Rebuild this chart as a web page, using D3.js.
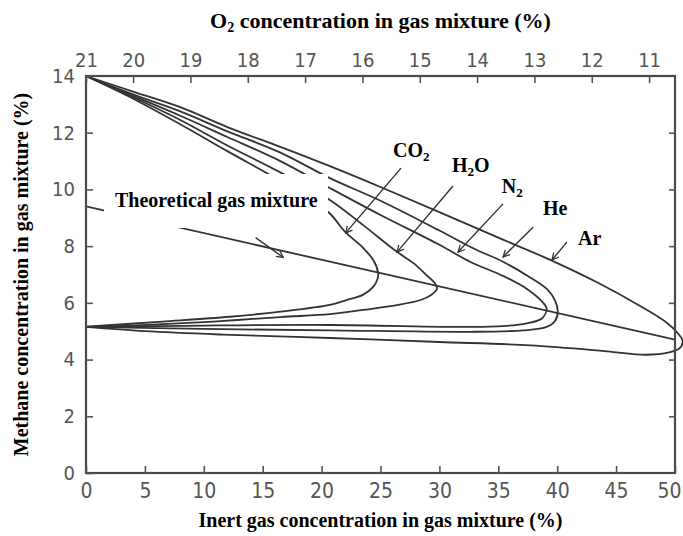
<!DOCTYPE html>
<html>
<head>
<meta charset="utf-8">
<script src="https://cdn.jsdelivr.net/npm/d3@7/dist/d3.min.js"></script>
<style>
  html, body { margin: 0; padding: 0; background: #fff; }
  svg { display: block; }
</style>
</head>
<body>
<svg id="chart" width="683" height="536"></svg>
<script>
// ---------------- DATA (inert gas %, methane %) ----------------
const inertTicks = [0, 5, 10, 15, 20, 25, 30, 35, 40, 45, 50];
const methaneTicks = [0, 2, 4, 6, 8, 10, 12, 14];
const oxygenTicks = [21, 20, 19, 18, 17, 16, 15, 14, 13, 12, 11];

const co2Envelope = [[0,14],[4,13.2],[8,12.3],[12,11.35],[16.5,10.3],[19,9.65],[20.7,9.15],[22,8.5],[23.5,7.95],[24.4,7.5],[24.8,7.05],[24.75,6.85],[24.4,6.57],[23.5,6.28],[22.1,6.1],[20.7,5.93],[16.5,5.69],[12.2,5.51],[6.5,5.34],[0,5.16]];
const h2oEnvelope = [[0,14],[4,13.25],[8,12.45],[12,11.55],[16.5,10.6],[20.7,9.63],[23.5,8.75],[26.4,7.8],[27.8,7.4],[28.9,6.98],[29.6,6.7],[29.8,6.5],[29.3,6.28],[28.4,6.1],[26.4,5.92],[23.5,5.75],[20.7,5.6],[16.5,5.5],[10.8,5.34],[5.2,5.22],[0,5.15]];
const n2Envelope = [[0,14],[4,13.3],[8,12.6],[12,11.85],[16.5,11.0],[20.7,10.05],[25,9.1],[30,8.05],[32.6,7.45],[35.4,6.95],[37.4,6.5],[38.7,6.05],[39.1,5.8],[38.7,5.45],[37.4,5.28],[35.4,5.18],[32.6,5.15],[20.7,5.22],[10,5.2],[0,5.15]];
const heEnvelope = [[0,14],[4,13.35],[8,12.75],[12,12.05],[16.5,11.3],[20.7,10.4],[25,9.6],[30,8.55],[33,7.9],[35.4,7.45],[37.5,6.95],[39.1,6.5],[39.8,6.1],[40.05,5.7],[39.8,5.35],[39.1,5.15],[37.1,5.03],[32.6,4.98],[20.7,5.03],[10,5.08],[0,5.15]];
const arEnvelope = [[0,14],[4,13.45],[8,12.9],[12,12.2],[16.5,11.5],[20.7,10.82],[25.2,10.05],[30,9.2],[35,8.3],[39.5,7.5],[43.5,6.7],[47,5.9],[49.3,5.3],[50.3,4.9],[50.65,4.65],[50.4,4.4],[49.5,4.25],[47.5,4.17],[44,4.3],[37.7,4.5],[30,4.62],[20.7,4.76],[11.6,4.88],[5,5.0],[0,5.15]];
const theoreticalLine = [[0,9.4],[50,4.7]];

// label names and their leader arrows (start -> tip, in data units)
const gasNames = ["CO", "H", "N", "He", "Ar"];
const gasSubs  = [["", "2", ""], ["", "2", "O"], ["", "2", ""], ["", "", ""], ["", "", ""]];
const labelAnchors = [[26.06,11.14],[31.07,10.61],[35.3,9.87],[38.8,9.1],[41.77,8.04]];
const arrowStarts = [[26.74,10.75],[31.15,10.12],[35.4,9.49],[37.95,8.67],[40.83,8.15]];
const arrowTips   = [[22.03,8.46],[26.4,7.79],[31.58,7.79],[35.4,7.62],[39.56,7.51]];
const theoLabelAnchor = [2.46, 9.38];
const theoArrow = [[14.4,8.3],[16.75,7.6]];

// ---------------- LAYOUT ----------------
const svg = d3.select("#chart");
const x = d3.scaleLinear().domain([0, 50]).range([86, 675]);
const y = d3.scaleLinear().domain([0, 14]).range([473, 76]);
const xO2 = d3.scaleLinear().domain([21, 20, 11]).range([x(0), x(4.0), x(47.8)]);

const ink = "#333";
const tickFont = "'Liberation Sans Narrow', 'DejaVu Sans Condensed', 'Arial Narrow', sans-serif";
const titleFont = "'Liberation Serif', 'Times New Roman', serif";

svg.append("rect").attr("width", 683).attr("height", 536).attr("fill", "#fff");

// curves
const line = d3.line().x(d => x(d[0])).y(d => y(d[1])).curve(d3.curveCatmullRom.alpha(0.5));
const envelopes = [co2Envelope, h2oEnvelope, n2Envelope, heEnvelope, arEnvelope];
svg.append("g").selectAll("path").data(envelopes).join("path")
  .attr("d", line).attr("fill", "none").attr("stroke", ink)
  .attr("stroke-width", 1.8).attr("stroke-linejoin", "round");

svg.append("path").datum(theoreticalLine)
  .attr("d", d3.line().x(d => x(d[0])).y(d => y(d[1])))
  .attr("fill", "none").attr("stroke", ink).attr("stroke-width", 1.8);

// frame
svg.append("rect").attr("x", x(0)).attr("y", y(14))
  .attr("width", x(50) - x(0)).attr("height", y(0) - y(14))
  .attr("fill", "none").attr("stroke", "#4a4a4a").attr("stroke-width", 2.2);

function styleAxis(g, size) {
  g.select(".domain").remove();
  g.selectAll(".tick line").attr("stroke", "#555").attr("stroke-width", 1.6);
  g.selectAll(".tick text").attr("fill", "#555")
    .attr("font-family", tickFont).attr("font-size", size);
}

svg.append("g").attr("transform", `translate(0,${y(0)})`)
  .call(d3.axisBottom(x).tickValues(inertTicks).tickSizeInner(-7).tickSizeOuter(0).tickPadding(10))
  .call(g => styleAxis(g, 21))
  .call(g => g.selectAll(".tick text").filter(d => d === 50).attr("dx", -6));

svg.append("g").attr("transform", `translate(${x(0)},0)`)
  .call(d3.axisLeft(y).tickValues(methaneTicks).tickSizeInner(-7).tickSizeOuter(0).tickPadding(11))
  .call(g => styleAxis(g, 20));

svg.append("g").attr("transform", `translate(${x(50)},0)`)
  .call(d3.axisRight(y).tickValues(methaneTicks.slice(1, -1)).tickSizeInner(-6).tickSizeOuter(0).tickFormat(""))
  .call(g => styleAxis(g, 20));

svg.append("g").attr("transform", `translate(0,${y(14)})`)
  .call(d3.axisTop(xO2).tickValues(oxygenTicks).tickSizeInner(-7).tickSizeOuter(0).tickPadding(9))
  .call(g => styleAxis(g, 20));

// white box behind the "Theoretical gas mixture" label
svg.append("rect").attr("x", 104).attr("y", 174).attr("width", 224).attr("height", 54).attr("fill", "#fff");

// leader arrows
svg.append("defs").append("marker").attr("id", "ah")
  .attr("viewBox", "0 0 10 10").attr("refX", 9).attr("refY", 5)
  .attr("markerWidth", 6).attr("markerHeight", 6).attr("orient", "auto")
  .append("path").attr("d", "M1,1 L9,5 L1,9").attr("fill", "none").attr("stroke", ink).attr("stroke-width", 1.5);

const arrows = arrowStarts.map((s, i) => [s, arrowTips[i]]).concat([theoArrow]);
svg.append("g").selectAll("path").data(arrows).join("path")
  .attr("d", d => `M${x(d[0][0])},${y(d[0][1])}L${x(d[1][0])},${y(d[1][1])}`)
  .attr("stroke", ink).attr("stroke-width", 1.4).attr("fill", "none")
  .attr("marker-end", "url(#ah)");

// gas labels
const labelSize = 20, subSize = 13;
gasNames.forEach((name, i) => {
  const t = svg.append("text").attr("x", x(labelAnchors[i][0])).attr("y", y(labelAnchors[i][1]))
    .attr("font-family", titleFont).attr("font-weight", "bold").attr("font-size", labelSize).attr("fill", "#000");
  t.append("tspan").text(name);
  const [, sub, tail] = gasSubs[i];
  if (sub) t.append("tspan").attr("dy", 4).attr("font-size", subSize).text(sub);
  if (tail) t.append("tspan").attr("dy", -4).text(tail);
});

svg.append("text").attr("x", x(theoLabelAnchor[0])).attr("y", y(theoLabelAnchor[1]))
  .attr("font-family", titleFont).attr("font-weight", "bold").attr("font-size", labelSize)
  .text("Theoretical gas mixture");

// axis titles
const topTitle = svg.append("text").attr("x", (x(0) + x(50)) / 2).attr("y", 28).attr("text-anchor", "middle")
  .attr("font-family", titleFont).attr("font-weight", "bold").attr("font-size", 22);
topTitle.append("tspan").text("O");
topTitle.append("tspan").attr("dy", 4).attr("font-size", 14).text("2");
topTitle.append("tspan").attr("dy", -4).text(" concentration in gas mixture (%)");

svg.append("text").attr("x", (x(0) + x(50)) / 2).attr("y", 527).attr("text-anchor", "middle")
  .attr("font-family", titleFont).attr("font-weight", "bold").attr("font-size", 20)
  .text("Inert gas concentration in gas mixture (%)");

svg.append("text").attr("transform", `translate(28,${(y(0) + y(14)) / 2}) rotate(-90)`)
  .attr("text-anchor", "middle")
  .attr("font-family", titleFont).attr("font-weight", "bold").attr("font-size", 20)
  .text("Methane concentration in gas mixture (%)");
</script>
</body>
</html>
